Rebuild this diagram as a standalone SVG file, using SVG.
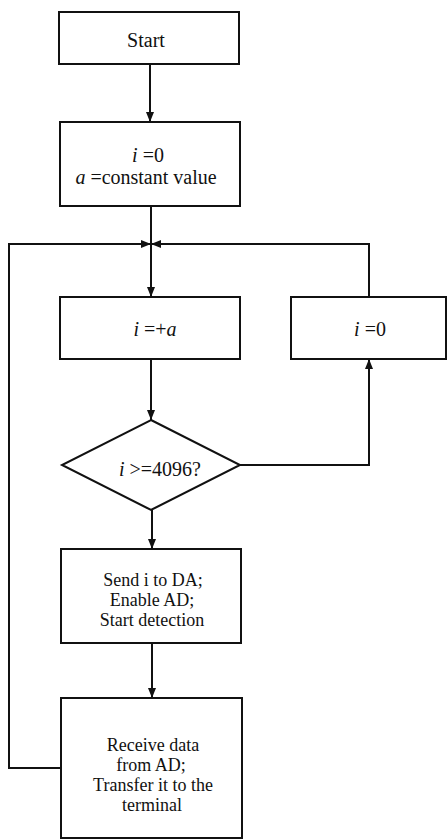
<svg xmlns="http://www.w3.org/2000/svg" width="448" height="840" viewBox="0 0 448 840">
<defs>
<style>
.box{fill:#fff;stroke:#111;stroke-width:2}
.ln{fill:none;stroke:#111;stroke-width:2}
text{font-family:'Liberation Serif','Times New Roman',serif;font-size:20px;fill:#111;text-anchor:middle}
.sm{font-size:18px}
.it{font-style:italic}
</style>
<marker id="ah" viewBox="0 0 10 8" refX="10" refY="4" markerWidth="10" markerHeight="8" markerUnits="userSpaceOnUse" orient="auto">
<path d="M0,0 L10,4 L0,8 Z" fill="#111"/>
</marker>
</defs>
<rect width="448" height="840" fill="#fff"/>
<g id="connectors">
<line class="ln" x1="150" y1="65" x2="150" y2="122" marker-end="url(#ah)"/>
<line class="ln" x1="151" y1="207" x2="151" y2="297" marker-end="url(#ah)"/>
<polyline class="ln" points="61,768 9,768 9,244 151,244" marker-end="url(#ah)"/>
<polyline class="ln" points="369,297 369,244 151,244" marker-end="url(#ah)"/>
<line class="ln" x1="151" y1="359" x2="151" y2="420" marker-end="url(#ah)"/>
<polyline class="ln" points="240,465 369,465 369,359" marker-end="url(#ah)"/>
<line class="ln" x1="152" y1="510" x2="152" y2="549" marker-end="url(#ah)"/>
<line class="ln" x1="152" y1="643" x2="152" y2="698" marker-end="url(#ah)"/>
</g>
<g id="start">
<rect class="box" x="59" y="12" width="180" height="52"/>
<text x="146" y="47">Start</text>
</g>
<g id="init">
<rect class="box" x="60" y="122" width="180" height="84"/>
<text x="148" y="162"><tspan class="it">i</tspan> =0</text>
<text x="146" y="184"><tspan class="it">a</tspan> =constant value</text>
</g>
<g id="increment">
<rect class="box" x="60" y="297" width="180" height="62"/>
<text x="155" y="336"><tspan class="it">i</tspan> =+<tspan class="it">a</tspan></text>
</g>
<g id="reset">
<rect class="box" x="291" y="297" width="155" height="62"/>
<text x="370" y="336"><tspan class="it">i</tspan> =0</text>
</g>
<g id="decision">
<polygon class="box" points="151,420 240,465 151,510 62,465"/>
<text x="160" y="476"><tspan class="it">i</tspan> &gt;=4096?</text>
</g>
<g id="send">
<rect class="box" x="61" y="549" width="180" height="94"/>
<text class="sm" x="153" y="586">Send i to DA;</text>
<text class="sm" x="152" y="606">Enable AD;</text>
<text class="sm" x="152" y="626">Start detection</text>
</g>
<g id="receive">
<rect class="box" x="61" y="698" width="181" height="140"/>
<text class="sm" x="153" y="751">Receive data</text>
<text class="sm" x="151" y="771">from AD;</text>
<text class="sm" x="153" y="791">Transfer it to the</text>
<text class="sm" x="152" y="811">terminal</text>
</g>
</svg>
